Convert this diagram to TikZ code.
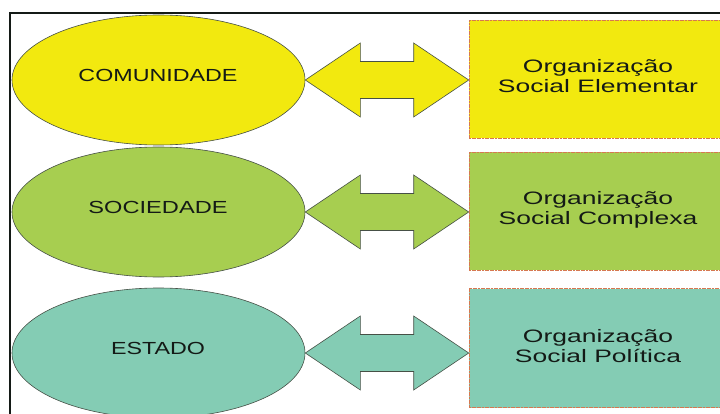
\documentclass[tikz,border=0pt]{standalone}
\usepackage{fontspec}
\setmainfont{Liberation Sans}
\usetikzlibrary{shapes.geometric,calc}

\definecolor{cyellow}{RGB}{242,233,15}
\definecolor{cgreen}{RGB}{167,206,80}
\definecolor{cteal}{RGB}{132,204,180}
\definecolor{edgegray}{RGB}{70,80,70}
\definecolor{boxedge}{RGB}{214,120,80}
\definecolor{inkdark}{RGB}{20,26,22}

\tikzset{
  oval/.style={ellipse, draw=edgegray, line width=0.6pt, minimum width=293pt,
    minimum height=130pt, inner sep=0pt},
  ovaltext/.style={text=inkdark, font=\fontsize{17.5}{20}\selectfont, inner sep=0pt},
  orgbox/.style={rectangle, draw=boxedge, line width=0.6pt, dash pattern=on 2pt off 0.6pt,
    minimum width=258pt, inner sep=0pt, text=inkdark,
    font=\fontsize{18}{20}\selectfont},
  twoway/.style={draw=edgegray, line width=0.6pt, line join=miter},
}

% double-headed block arrow from an ellipse to a box
\newcommand{\twowayarrow}[3]{%
  \path (#1.east) coordinate (#1L);
  \path (#2.west |- #1.east) coordinate (#1R);
  \draw[twoway, fill=#3]
    (#1L) -- ++(55,-37) -- ++(0,18.5) -- ($(#1R)+(-55,-18.5)$) -- ++(0,-18.5)
    -- (#1R) -- ++(-55,37) -- ++(0,-18.5) -- ($(#1L)+(55,18.5)$) -- ++(0,18.5) -- cycle;
}

\newcommand{\wideline}[2]{\scalebox{#1}[1]{#2}}
\newcommand{\twolines}[3]{\scalebox{#1}[1]{\begin{tabular}{@{}c@{}}#2\\#3\end{tabular}}}

\begin{document}
\begin{tikzpicture}[x=1pt, y=-1pt]
  \useasboundingbox (0,0) rectangle (720,414);
  \clip (0,0) rectangle (720,414);
  \fill[white] (0,0) rectangle (720,414);

  % outer frame (only top and left edges fall inside the page)
  \draw[line width=2pt, inkdark] (10,440) -- (10,13) -- (740,13);

  % left column
  \node[oval, fill=cyellow] (e1) at (158.5,80) {};
  \node[oval, fill=cgreen]  (e2) at (158.5,212) {};
  \node[oval, fill=cteal]   (e3) at (158.5,353) {};
  \node[ovaltext] (t1) at (158,75)  {\wideline{1.33}{COMUNIDADE}};
  \node[ovaltext] (t2) at (158,207) {\wideline{1.35}{SOCIEDADE}};
  \node[ovaltext] (t3) at (158,348) {\wideline{1.33}{ESTADO}};

  % right column
  \node[orgbox, fill=cyellow, minimum height=118pt] (r1) at (598,79)
    {\twolines{1.47}{Organização}{Social Elementar}};
  \node[orgbox, fill=cgreen, minimum height=118pt] (r2) at (598,211)
    {\twolines{1.47}{Organização}{Social Complexa}};
  \node[orgbox, fill=cteal, minimum height=119pt] (r3) at (598,348)
    {\twolines{1.47}{Organização}{Social Política}};

  % connecting arrows
  \twowayarrow{e1}{r1}{cyellow}
  \twowayarrow{e2}{r2}{cgreen}
  \twowayarrow{e3}{r3}{cteal}
\end{tikzpicture}
\end{document}
